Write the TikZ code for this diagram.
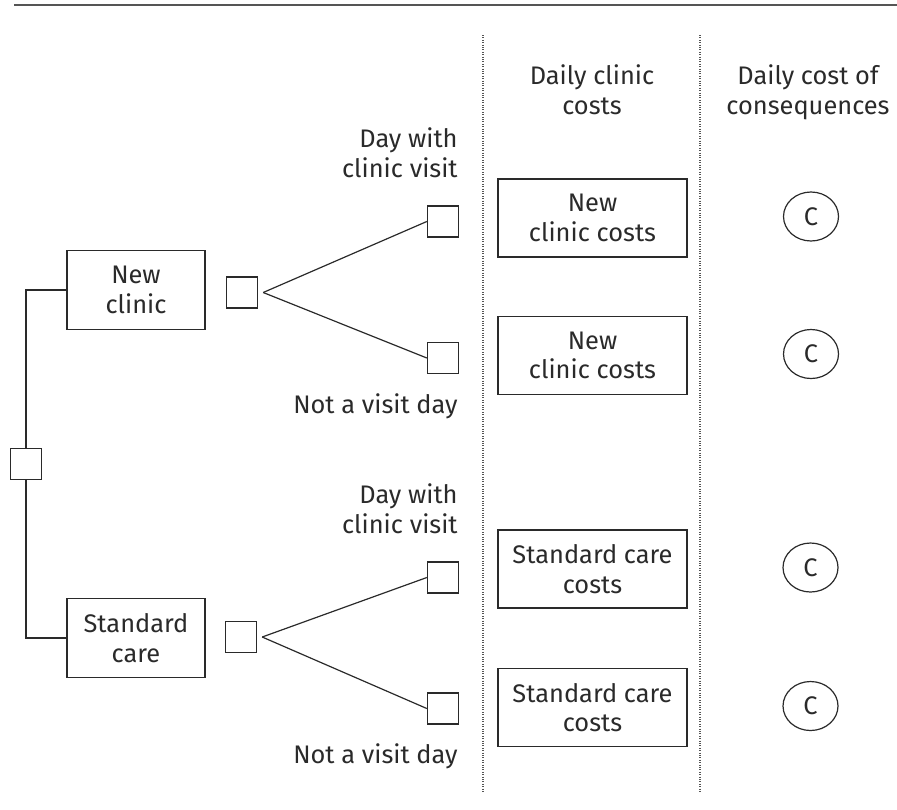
\documentclass[tikz,border=0pt]{standalone}
\usepackage{fontspec}
\setmainfont{Fira Sans}
\usetikzlibrary{positioning, shapes.geometric}
\definecolor{inkgrey}{HTML}{2A2A2A}
\definecolor{rulegrey}{HTML}{555555}

\begin{document}
\begin{tikzpicture}[x=0.5pt, y=-0.5pt,
    every node/.style={font=\fontsize{12.7}{14.8}\selectfont, text=inkgrey},
    dsq/.style={draw=inkgrey, line width=0.7pt, minimum size=15.5pt, inner sep=0pt},
    opt/.style={draw=inkgrey, line width=0.7pt, minimum width=69pt,
                minimum height=39.5pt, align=center, inner sep=0pt},
    cost/.style={draw=inkgrey, line width=0.7pt, minimum width=94.5pt,
                 minimum height=39pt, align=center, inner sep=0pt},
    cons/.style={draw=inkgrey, ellipse, line width=0.6pt, minimum width=27.5pt,
                 minimum height=24.5pt, inner sep=0pt},
    lbl/.style={align=right, anchor=east, inner sep=0pt},
    head/.style={align=center},
    link/.style={draw=inkgrey, line width=0.6pt},
    sep/.style={draw=rulegrey, line width=0.7pt, dash pattern=on 0.5pt off 0.7pt}
  ]
  \useasboundingbox (0,0) rectangle (897,809);
  \draw[rulegrey, line width=1pt] (14,5) -- (897,5);

  % decision tree
  \node[dsq] (root) at (26,464) {};
  \node[opt] (nc) at (136,290) {New\\clinic};
  \node[opt] (sc) at (136,638) {Standard\\care};
  \node[dsq] (d1) at (242,292.5) {};
  \node[dsq] (d2) at (241,637) {};
  \node[dsq] (e11) at (443,221.5) {};
  \node[dsq] (e12) at (443,358) {};
  \node[dsq] (e21) at (443,577.5) {};
  \node[dsq] (e22) at (443,708.5) {};
  \coordinate[right=2.5pt of d1] (f1);
  \coordinate[right=2.5pt of d2] (f2);

  \draw[link] (nc.west) -| (root.north);
  \draw[link] (root.south) |- (sc.west);
  \draw[link] (f1) -- (e11.west);
  \draw[link] (f1) -- (e12.west);
  \draw[link] (f2) -- (e21.west);
  \draw[link] (f2) -- (e22.west);

  \node[lbl] (v1) at (458,153) {Day with\\clinic visit};
  \node[lbl] (n1) at (458,406) {Not a visit day};
  \node[lbl] (v2) at (458,509) {Day with\\clinic visit};
  \node[lbl] (n2) at (458,756.5) {Not a visit day};

  % columns
  \draw[sep] (483,35) -- (483,792);
  \draw[sep] (700,35) -- (700,792);
  \node[head] (h1) at (592,90) {Daily clinic\\costs};
  \node[head] (h2) at (808,92.5) {Daily cost of\\consequences};

  \node[cost] (k1) at (592.5,218) {New\\clinic costs};
  \node[cost] (k2) at (592.5,355.5) {New\\clinic costs};
  \node[cost] (k3) at (592.5,569) {Standard care\\costs};
  \node[cost] (k4) at (592.5,707.5) {Standard care\\costs};

  \node[cons] (c1) at (811,216.5) {C};
  \node[cons] (c2) at (811,354) {C};
  \node[cons] (c3) at (810.5,567.5) {C};
  \node[cons] (c4) at (810.5,706) {C};
\end{tikzpicture}
\end{document}
